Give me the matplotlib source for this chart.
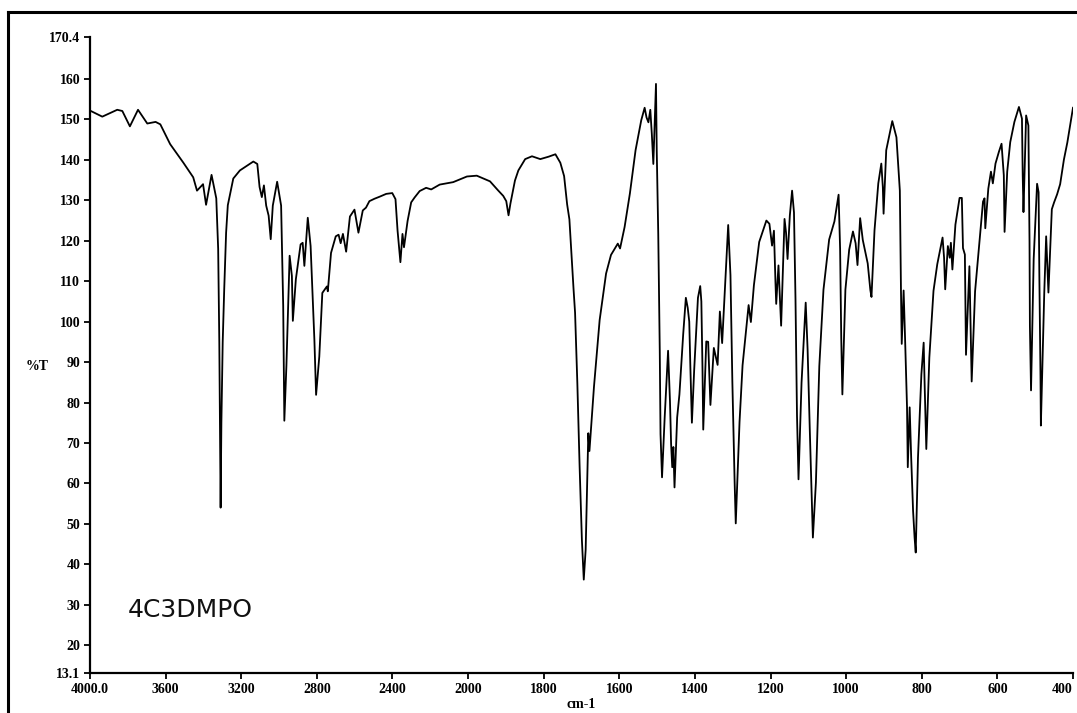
import numpy as np
import matplotlib
matplotlib.use("Agg")
import matplotlib.pyplot as plt
from matplotlib.lines import Line2D

# IR transmission spectrum of 4C3DMPO
wavenumber = [
    4000, 3935, 3856, 3829, 3789, 3746, 3697, 3653, 3628, 3576, 3506, 3454,
    3434, 3402, 3386, 3357, 3332, 3322, 3316, 3312, 3309, 3305, 3298, 3290,
    3280, 3271, 3242, 3207, 3136, 3115, 3103, 3091, 3080, 3068, 3055, 3044,
    3033, 3010, 2989, 2978, 2972, 2961, 2944, 2932, 2927, 2911, 2886, 2875,
    2866, 2848, 2833, 2813, 2804, 2787, 2771, 2747, 2742, 2725, 2700, 2685,
    2674, 2662, 2645, 2625, 2601, 2580, 2557, 2540, 2522, 2495, 2468, 2433,
    2401, 2384, 2373, 2358, 2347, 2339, 2320, 2301, 2283, 2256, 2222, 2195,
    2150, 2079, 2006, 1977, 1942, 1921, 1907, 1899, 1893, 1888, 1876, 1867,
    1849, 1831, 1809, 1787, 1769, 1756, 1746, 1738, 1732, 1725, 1721, 1717,
    1711, 1705, 1699, 1694, 1689, 1682, 1679, 1676, 1667, 1652, 1635, 1622,
    1604, 1598, 1586, 1572, 1557, 1542, 1533, 1528, 1523, 1518, 1514, 1510,
    1503, 1501, 1497, 1493, 1491, 1487, 1480, 1471, 1466, 1463, 1460, 1457,
    1454, 1447, 1441, 1437, 1431, 1424, 1419, 1415, 1412, 1408, 1402, 1392,
    1386, 1383, 1380, 1378, 1370, 1365, 1359, 1350, 1340, 1334, 1328, 1312,
    1306, 1301, 1295, 1292, 1282, 1274, 1258, 1252, 1244, 1230, 1211, 1203,
    1196, 1191, 1187, 1185, 1179, 1172, 1163, 1159, 1155, 1149, 1143, 1138,
    1134, 1130, 1126, 1118, 1107, 1102, 1096, 1088, 1080, 1071, 1060, 1045,
    1031, 1020, 1016, 1013, 1010, 1002, 992, 982, 975, 970, 963, 956,
    950, 943, 936, 933, 925, 915, 907, 903, 901, 894, 878, 867,
    858, 855, 853, 848, 844, 839, 837, 832, 828, 823, 819, 816,
    810, 801, 795, 792, 788, 780, 769, 759, 753, 745, 741, 738,
    731, 726, 723, 719, 711, 700, 694, 691, 686, 683, 674, 671,
    668, 659, 649, 638, 634, 632, 624, 617, 612, 605, 596, 589,
    583, 581, 574, 566, 555, 543, 535, 533, 531, 524, 518, 515,
    514, 511, 504, 495, 491, 489, 486, 485, 476, 471, 467, 465,
    456, 450, 442, 434, 424, 415, 400,
]
transmittance = [
    152.2, 150.7, 152.4, 152.1, 148.3, 152.4, 149.0, 149.4, 148.8, 143.9, 139.3, 135.7,
    132.4, 134.0, 128.9, 136.3, 130.5, 118.0, 95.0, 72.0, 54.0, 75.0, 95.0, 108.0,
    122.0, 128.8, 135.4, 137.4, 139.6, 139.0, 133.3, 130.8, 133.7, 128.7, 126.2, 120.4,
    128.7, 134.6, 128.7, 103.9, 75.5, 89.1, 116.3, 111.3, 100.2, 110.5, 119.1, 119.5,
    113.8, 125.7, 118.7, 95.5, 81.9, 91.4, 107.1, 108.7, 107.5, 117.0, 121.1, 121.5,
    119.4, 121.7, 117.3, 126.0, 127.7, 122.0, 127.5, 128.2, 129.8, 130.4, 130.9, 131.6,
    131.8, 130.3, 122.5, 114.7, 121.7, 118.4, 124.9, 129.5, 130.7, 132.3, 133.1, 132.7,
    133.9, 134.5, 135.9, 136.1, 134.7, 132.5, 131.1, 129.8, 126.3, 129.2, 134.9, 137.4,
    140.2, 140.9, 140.2, 140.8, 141.4, 139.3, 136.0, 129.0, 125.3, 114.0, 108.0, 102.2,
    84.8, 64.2, 46.1, 36.2, 43.6, 72.4, 68.0, 72.0, 83.9, 100.4, 111.9, 116.5,
    119.3, 118.1, 123.4, 131.7, 142.4, 149.8, 152.9, 150.5, 149.3, 152.4, 146.4, 139.0,
    158.8, 142.3, 121.7, 92.8, 72.2, 61.5, 76.3, 92.8, 80.4, 69.7, 64.0, 69.0,
    59.0, 76.3, 82.0, 87.8, 96.9, 105.9, 103.4, 100.0, 88.6, 75.0, 88.0, 105.9,
    108.8, 105.0, 88.5, 73.3, 95.1, 95.0, 79.4, 93.5, 89.3, 102.5, 94.7, 123.9,
    111.5, 85.2, 60.4, 50.1, 75.2, 89.2, 104.1, 99.9, 109.0, 119.7, 125.0, 124.2,
    118.8, 122.5, 109.8, 104.4, 113.9, 99.0, 125.4, 122.0, 115.5, 126.2, 132.4, 127.0,
    105.6, 76.7, 61.0, 84.9, 104.7, 93.2, 72.6, 46.6, 60.2, 89.0, 107.9, 120.3,
    124.8, 131.4, 118.0, 96.0, 82.0, 107.9, 117.8, 122.3, 119.4, 114.0, 125.6, 120.2,
    117.5, 114.4, 107.8, 106.1, 122.6, 134.2, 139.1, 133.3, 126.7, 142.4, 149.6, 145.6,
    132.4, 107.7, 94.5, 107.7, 95.3, 78.8, 64.0, 78.8, 66.4, 53.2, 46.6, 42.9,
    66.4, 87.0, 94.8, 82.9, 68.5, 91.1, 107.6, 114.2, 117.0, 120.8, 115.8, 108.0,
    118.7, 115.8, 119.5, 112.9, 124.0, 130.6, 130.6, 118.2, 116.6, 91.8, 113.7, 99.2,
    85.2, 107.5, 118.2, 129.7, 130.5, 123.1, 132.9, 137.1, 134.2, 139.1, 142.0, 144.0,
    136.2, 122.2, 137.1, 144.4, 149.4, 153.1, 150.2, 136.2, 127.1, 151.0, 148.5, 119.7,
    99.0, 83.0, 115.5, 134.1, 132.0, 111.4, 86.7, 74.3, 107.2, 121.1, 112.2, 107.2,
    127.8, 129.5, 131.5, 134.0, 140.1, 144.3, 152.9,
]

x_ticks = [4000, 3600, 3200, 2800, 2400, 2000, 1800, 1600, 1400, 1200, 1000, 800, 600, 400]
x_tick_labels = ["4000.0", "3600", "3200", "2800", "2400", "2000", "1800", "1600",
                 "1400", "1200", "1000", "800", "600", "400"]
y_ticks = [13.1, 20, 30, 40, 50, 60, 70, 80, 90, 100, 110, 120, 130, 140, 150, 160, 170.4]
y_tick_labels = ["13.1", "20", "30", "40", "50", "60", "70", "80", "90", "100", "110",
                 "120", "130", "140", "150", "160", "170.4"]
sample_name = "4C3DMPO"


# Abscissa: 400 cm-1 per division above 2000, 200 cm-1 per division below
def wn_forward(w):
    w = np.asarray(w, dtype=float)
    return np.where(w >= 2000, (w - 4000) / 400.0, -5.0 - (2000 - w) / 200.0)


def wn_inverse(p):
    p = np.asarray(p, dtype=float)
    return np.where(p >= -5.0, 4000 + 400.0 * p, 2000 + 200.0 * (p + 5.0))


W, H = 1077, 713
fig = plt.figure(figsize=(W / 100, H / 100), dpi=100)
fig.patch.set_facecolor("white")

left, right, top, bottom = 90, 1073, 37, 673
ax = fig.add_axes([left / W, 1 - bottom / H, (right - left) / W, (bottom - top) / H])
ax.set_xscale("function", functions=(wn_forward, wn_inverse))
ax.plot(wavenumber, transmittance, color="black", lw=1.3, solid_joinstyle="round")
ax.set_xlim(4000, 400)
ax.set_ylim(13.1, 170.4)

tick_font = dict(family="Liberation Serif", weight="bold", size=10)
ax.set_xticks(x_ticks)
ax.set_xticklabels(x_tick_labels, fontdict=tick_font)
ax.get_xticklabels()[-1].set_horizontalalignment("right")
ax.set_yticks(y_ticks)
ax.set_yticklabels(y_tick_labels, fontdict=tick_font)
ax.xaxis.set_minor_locator(matplotlib.ticker.NullLocator())
ax.tick_params(axis="both", direction="out", length=4, width=1.3, color="black", pad=3)

for side in ("top", "right"):
    ax.spines[side].set_visible(False)
for side in ("left", "bottom"):
    ax.spines[side].set_linewidth(1.6)

ax.set_xlabel("cm-1", fontdict=dict(family="Liberation Serif", weight="bold", size=10),
              labelpad=2)
fig.text(26 / W, 1 - 366 / H, "%T", fontsize=10, family="Liberation Serif",
         weight="bold", va="center", ha="left")

ax.text(0.038, 0.099, sample_name, transform=ax.transAxes,
        fontsize=18, family="DejaVu Sans", color="#111111", ha="left", va="center")

# page frame
fig.add_artist(Line2D([8 / W, 1.0], [1 - 12 / H, 1 - 12 / H], color="black", lw=2.2,
                      transform=fig.transFigure))
fig.add_artist(Line2D([8 / W, 8 / W], [0.0, 1 - 12 / H], color="black", lw=2.2,
                      transform=fig.transFigure))

fig.savefig("out.png", dpi=100, facecolor="white")
